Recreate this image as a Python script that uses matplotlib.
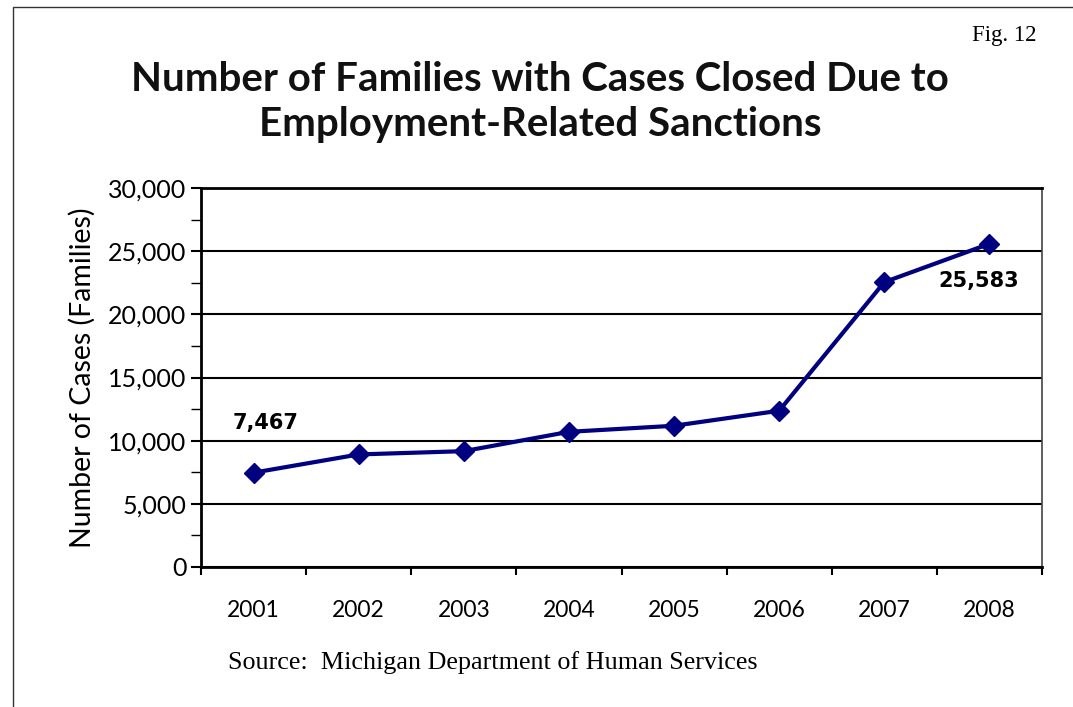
import matplotlib
matplotlib.use("Agg")
import matplotlib.pyplot as plt
from matplotlib.ticker import FuncFormatter, MultipleLocator
from matplotlib.patches import Rectangle

years = ["2001", "2002", "2003", "2004", "2005", "2006", "2007", "2008"]
cases = [7467, 8910, 9170, 10700, 11180, 12370, 22550, 25583]
y_ticks = [0, 5000, 10000, 15000, 20000, 25000, 30000]
labels_shown = {0: "7,467", 7: "25,583"}

NAVY = "#000080"
SANS = ["Lato", "DejaVu Sans"]
SERIF = ["Liberation Serif", "DejaVu Serif"]

fig = plt.figure(figsize=(10.73, 7.07), dpi=100)

# page frame
fig.patches.append(Rectangle((13 / 1073, -0.1), 1.2, 1 - 7 / 707 + 0.1,
                             transform=fig.transFigure, fill=False,
                             edgecolor="#333333", linewidth=1.0))

fig.text(1037 / 1073, 1 - 35 / 707, "Fig. 12", ha="right", va="center",
         fontsize=16.5, family=SERIF)
fig.text(540 / 1073, 1 - 102 / 707,
         "Number of Families with Cases Closed Due to\nEmployment-Related Sanctions",
         ha="center", va="center", fontsize=29, fontweight="bold",
         family=SANS, linespacing=1.27, color="#111111")
fig.text(228 / 1073, 1 - 663 / 707, "Source:  Michigan Department of Human Services",
         ha="left", va="center", fontsize=18.8, family=SERIF)

ax = fig.add_axes([201 / 1073, 1 - 567 / 707, 841 / 1073, 379 / 707])
x = list(range(len(years)))
ax.plot(x, cases, color=NAVY, linewidth=3, marker="D", markersize=10,
        markerfacecolor=NAVY, markeredgecolor=NAVY, zorder=5, clip_on=False)

ax.set_xlim(-0.5, len(years) - 0.5)
ax.set_ylim(0, 30000)
ax.set_yticks(y_ticks)
ax.yaxis.set_minor_locator(MultipleLocator(2500))
ax.yaxis.set_major_formatter(FuncFormatter(lambda v, p: f"{int(v):,}"))
ax.set_xticks(x)
ax.set_xticklabels(years)
ax.set_xticks([i - 0.5 for i in range(len(years) + 1)], minor=True)
ax.tick_params(axis="x", which="major", length=0, pad=24, labelsize=16.5)
ax.tick_params(axis="x", which="minor", length=6, width=1.5, direction="out")
ax.tick_params(axis="y", which="major", length=7, width=1.5, labelsize=18)
ax.tick_params(axis="y", which="minor", length=7, width=1.0)
for lbl in ax.get_xticklabels() + ax.get_yticklabels():
    lbl.set_family(SANS)

ax.grid(axis="y", which="major", color="black", linewidth=1.5)
ax.set_axisbelow(True)
for side in ["left", "bottom", "top"]:
    ax.spines[side].set_linewidth(2)
ax.spines["right"].set_linewidth(1.2)
ax.spines["right"].set_color("#444444")

ax.set_ylabel("Number of Cases (Families)", fontsize=20.5, family=SANS, labelpad=9)

ax.annotate(labels_shown[0], (0, cases[0]), xytext=(-15, 36), textcoords="offset points",
            ha="left", va="center", fontsize=15, fontweight="bold", family=["DejaVu Sans"])
ax.annotate(labels_shown[7], (7, cases[7]), xytext=(-37, -27), textcoords="offset points",
            ha="left", va="center", fontsize=15, fontweight="bold", family=["DejaVu Sans"])

fig.savefig("out.png", dpi=100)
